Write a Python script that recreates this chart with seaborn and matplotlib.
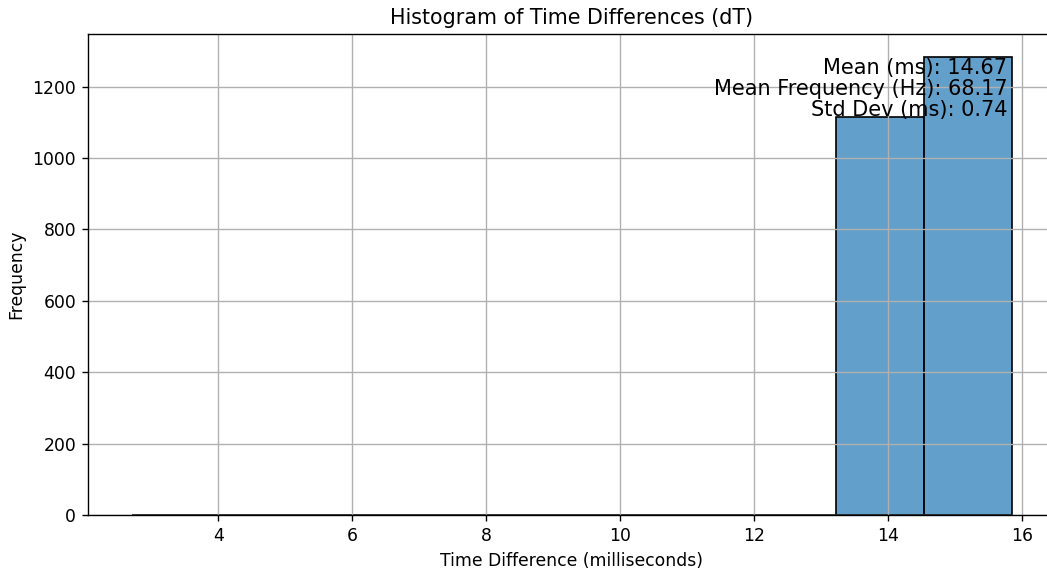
import matplotlib
matplotlib.use("Agg")
import matplotlib.pyplot as plt
import numpy as np
import pandas as pd
import seaborn as sns

# Histogram range (ms), bin count and counts per bin
bin_range = (2.715, 15.847)
n_bins = 10
bin_counts = [1, 0, 0, 0, 0, 0, 0, 0, 1114, 1283]

# Summary statistics shown in the corner
mean_ms = 14.67
mean_freq_hz = 68.17
std_ms = 0.74

scale = 1.24
plt.rcParams.update({
    "font.size": 10 * scale,
    "axes.linewidth": 0.8 * scale,
    "xtick.major.size": 3.5 * scale,
    "ytick.major.size": 3.5 * scale,
    "xtick.major.width": 0.8 * scale,
    "ytick.major.width": 0.8 * scale,
    "xtick.major.pad": 3.5 * scale,
    "ytick.major.pad": 3.5 * scale,
    "axes.labelpad": 4 * scale,
    "axes.titlepad": 6 * scale,
    "grid.linewidth": 0.8 * scale,
})

edges = np.linspace(bin_range[0], bin_range[1], n_bins + 1)
df = pd.DataFrame({"dt": (edges[:-1] + edges[1:]) / 2, "count": bin_counts})

fig = plt.figure(figsize=(10.47, 5.71), dpi=100)
ax = fig.add_axes([88.3 / 1047, 56 / 571, (1055.7 - 88.3) / 1047, 481 / 571])

sns.histplot(data=df, x="dt", weights="count", bins=n_bins, binrange=bin_range,
             ax=ax, color="C0", alpha=0.7, edgecolor="black", linewidth=1.2)

ax.set_title("Histogram of Time Differences (dT)", fontsize=12 * scale)
ax.set_xlabel("Time Difference (milliseconds)")
ax.set_ylabel("Frequency")
ax.grid(True)

stats = (f"Mean (ms): {mean_ms:.2f}\n"
         f"Mean Frequency (Hz): {mean_freq_hz:.2f}\n"
         f"Std Dev (ms): {std_ms:.2f}")
ax.text(0.95, 0.95, stats, transform=ax.transAxes, ha="right", va="top",
        fontsize=15, linespacing=1.05)

fig.savefig("out.png", dpi=100)
